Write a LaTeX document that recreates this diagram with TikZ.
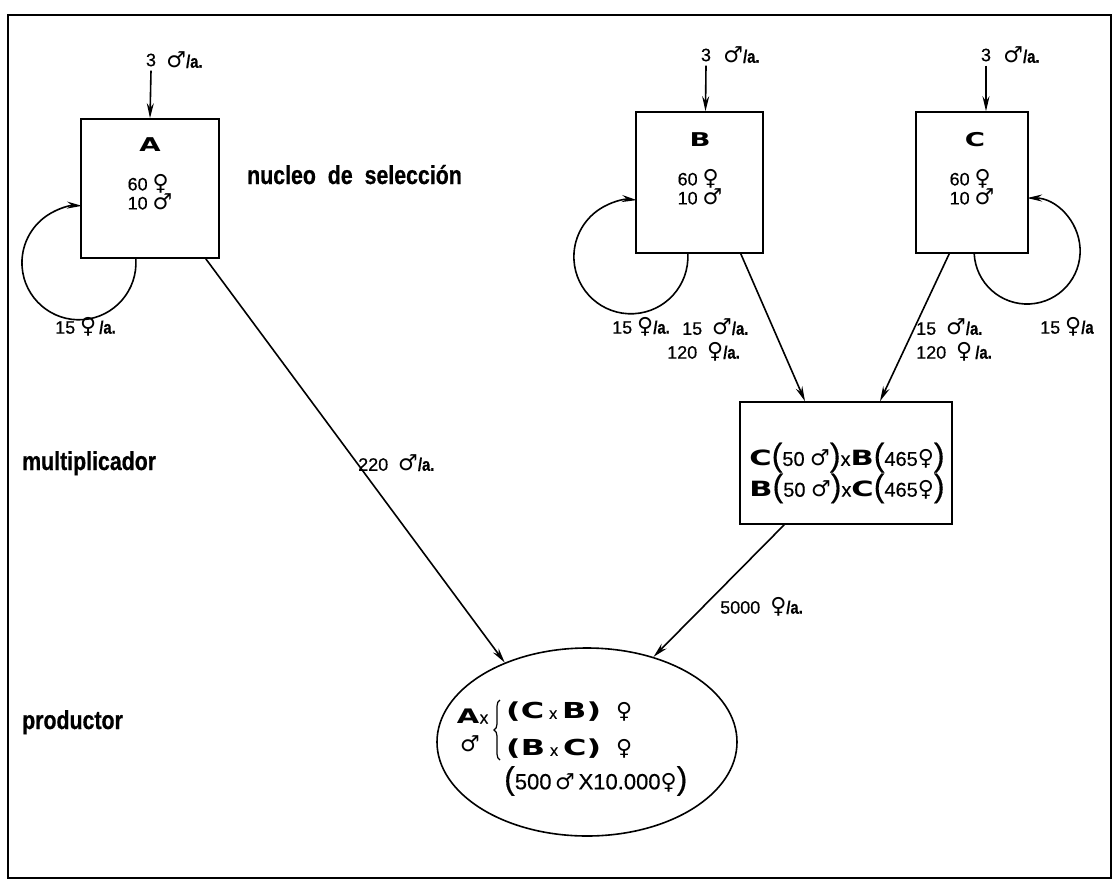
\documentclass[tikz,border=0pt]{standalone}
\usepackage{fontspec}
\setmainfont{Liberation Sans}[FakeBold=0.4]
\newfontfamily\symf{DejaVu Sans}
\newfontfamily\condf[FakeStretch=0.82,FakeBold=0.6]{Liberation Sans}
\newfontfamily\widef[FakeStretch=1.45]{DejaVu Sans}
\usetikzlibrary{arrows.meta,shapes.geometric,decorations.pathreplacing}
\newcommand\nolsk{\lineskiplimit=-30pt\relax}
\newcommand\fsym{{\symf\fontsize{22}{19}\selectfont ♀}}
\newcommand\msym{{\symf\fontsize{22}{19}\selectfont ♂}}
\newcommand\pera{{\condf\bfseries\fontsize{18}{18}\selectfont /a.}}
\newcommand\perb{{\condf\bfseries\fontsize{18}{18}\selectfont /a}}
\newcommand\letr[2][19]{{\widef\bfseries\fontsize{#1}{#1}\selectfont #2}}
\newcommand\tallp[1]{{\fontsize{32}{26}\selectfont #1}}
\newcommand\smx{{\fontsize{16}{16}\selectfont x}}
\tikzset{
  box/.style={draw, line width=1.6pt, inner sep=0pt},
  arr/.style={line width=1.6pt, -{Stealth[length=15pt,width=7pt,inset=5pt]}},
  lbl/.style={inner sep=0pt, font=\fontsize{18}{19}\selectfont},
  stage/.style={inner sep=0pt, anchor=base west, font=\condf\bfseries\fontsize{26}{26}\selectfont},
}
\begin{document}
\begin{tikzpicture}[x=1pt,y=-1pt]
\useasboundingbox (0,0) rectangle (1114,887);
\draw[line width=2.4pt] (8,15) rectangle (1111,878);

% boxes
\node[box, minimum width=138pt, minimum height=139pt] (A) at (150,188.5) {};
\node[box, minimum width=127pt, minimum height=141pt] (B) at (699.5,182.5) {};
\node[box, minimum width=112pt, minimum height=141pt] (C) at (972,182.5) {};
\node[box, minimum width=212pt, minimum height=122pt] (M) at (846,463) {};
\node[draw, ellipse, line width=1.6pt, inner sep=0pt, minimum width=300pt, minimum height=188pt] (P) at (587,742) {};

% box contents
\node[lbl] (Al) at (150,145) {\letr{A}};
\node[lbl, align=left] (An) at (150,192) {\nolsk 60 \fsym\\10 \msym};
\node[lbl] (Bl) at (700,140) {\letr{B}};
\node[lbl, align=left] (Bn) at (700,187) {\nolsk 60 \fsym\\10 \msym};
\node[lbl] (Cl) at (975,140) {\letr{C}};
\node[lbl, align=left] (Cn) at (972,187) {\nolsk 60 \fsym\\10 \msym};

% incoming arrows
\node[lbl] (A3) at (151,60) {3};
\node[lbl, anchor=west] at ([xshift=10pt]A3.east) {\msym\pera};
\node[lbl] (B3) at (706,55) {3};
\node[lbl, anchor=west] at ([xshift=12pt]B3.east) {\msym\pera};
\node[lbl] (C3) at (986,55) {3};
\node[lbl, anchor=west] at ([xshift=12pt]C3.east) {\msym\pera};
\draw[arr] ([yshift=-4pt]A3.south) -- (A.north);
\draw[arr] ([yshift=-4pt]B3.south) -- ([xshift=6pt]B.north);
\draw[arr] ([yshift=-4pt]C3.south) -- ([xshift=14pt]C.north);

% loops
\draw[arr] ([xshift=-84pt]A.south east) arc[start angle=-4, end angle=273, radius=57];
\draw[arr] ([xshift=-76pt]B.south east) arc[start angle=-3, end angle=276, radius=57];
\draw[arr] ([xshift=59pt]C.south west) arc[start angle=177, end angle=-90, radius=53];
\node[lbl, anchor=west] (lA) at (55,327) {15 \fsym\,\pera};
\node[lbl, anchor=west] (lB) at (612,327) {15 \fsym\pera};
\node[lbl, anchor=west] (lC) at (1040,327) {15 \fsym\perb};

% flows
\draw[arr] ([xshift=-14pt]A.south east) -- (P.136);
\draw[arr] ([xshift=-23pt]B.south east) -- ([xshift=-41pt]M.north);
\draw[arr] ([xshift=34pt]C.south west) -- ([xshift=34pt]M.north);
\draw[arr] ([xshift=45pt]M.south west) -- (P.52);

\node[lbl, anchor=west] (fB1) at (682,327) {15 \ \msym\pera};
\node[lbl, anchor=west] (fB2) at (667,352) {120 \ \fsym\pera};
\node[lbl, anchor=west] (fC1) at (916,327) {15 \ \msym\pera};
\node[lbl, anchor=west] (fC2) at (916,352) {120 \ \fsym\,\pera};
\node[lbl, anchor=west] (fA) at (358,463) {220 \ \msym\pera};
\node[lbl, anchor=west] (fM) at (720,607) {5000 \ \fsym\pera};

% multiplier contents
\node[lbl, align=left, font=\fontsize{20}{27}\selectfont] (Mt) at (847,473)
  {\nolsk\letr[21]{C}\tallp(50 \msym\tallp)x\letr[21]{B}\tallp(465\fsym\tallp)\\
   \letr[21]{B}\tallp(50 \msym\tallp)x\letr[21]{C}\tallp(465\fsym\tallp)};

% producer contents
\node[lbl] (PA) at (468,716) {\letr[20]{A}};
\node[lbl] (Pm) at (470,744) {\msym};
\node[lbl, font=\fontsize{17}{17}\selectfont] (Px) at (484,719) {x};
\draw[decorate, decoration={brace, amplitude=6pt}, line width=1.2pt] (500,760) -- (500,700);
\node[lbl, anchor=west] (Pr1) at (506,712) {\letr[22]{(C}\ \smx\ \letr[22]{B)}\ \ \ \fsym};
\node[lbl, anchor=west] (Pr2) at (506,749) {\letr[22]{(B}\ \smx\ \letr[22]{C)}\ \ \ \fsym};
\node[lbl, anchor=west, font=\fontsize{22}{22}\selectfont] (Pb) at (504,781) {\tallp(500\,\msym\,X10.000\fsym\tallp)};

% stages
\node[stage] (s1) at (247,184) {nucleo\hspace{6pt} de\hspace{6pt} selección};
\node[stage] (s2) at (22,470) {multiplicador};
\node[stage] (s3) at (22,729) {productor};
\end{tikzpicture}
\end{document}
